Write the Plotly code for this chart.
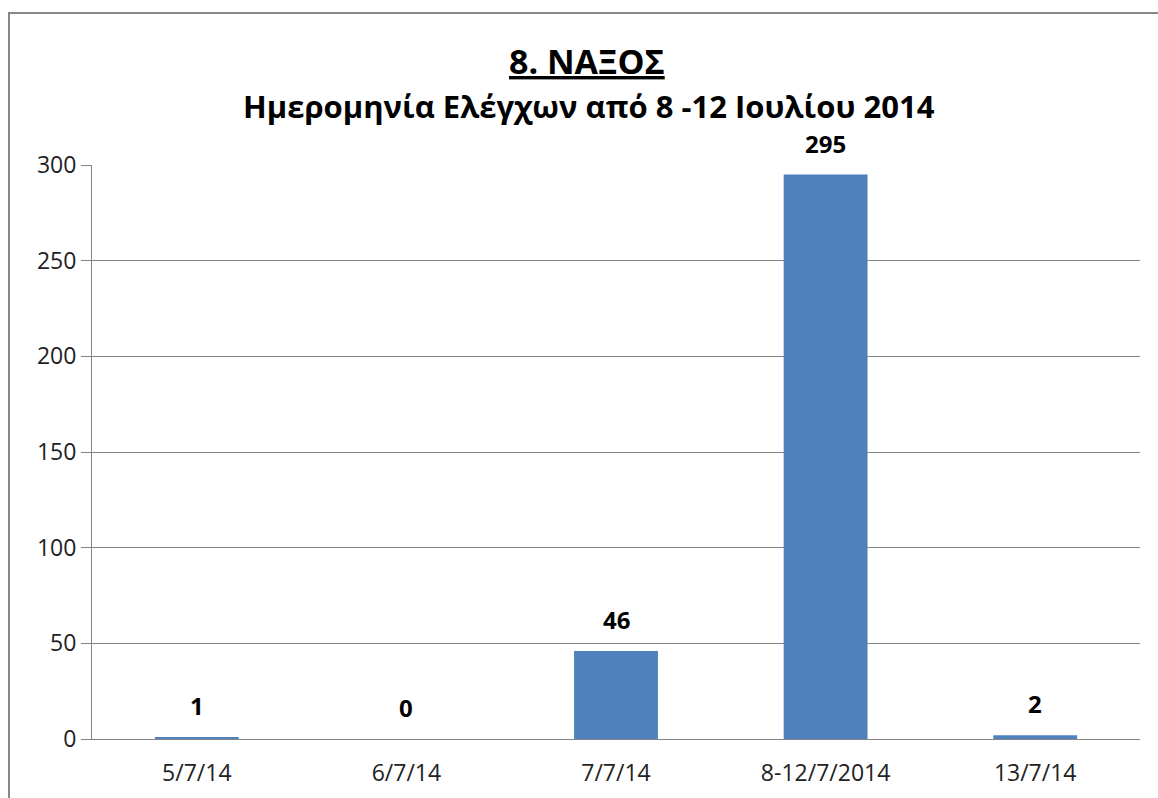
import plotly.graph_objects as go

categories = ["5/7/14", "6/7/14", "7/7/14", "8-12/7/2014", "13/7/14"]
values = [1, 0, 46, 295, 2]
y_ticks = [0, 50, 100, 150, 200, 250, 300]

title_text = "<u>8. ΝΑΞΟΣ</u>"
subtitle_text = "Ημερομηνία Ελέγχων από 8 -12 Ιουλίου 2014"

W, H = 1158, 798
# plot area in screen pixels
X0, X1, Y0, Y1 = 92, 1140, 165, 739
L, T = X0, Y0
R, B = W - X1, H - Y1
pw, ph = X1 - X0, Y1 - Y0

def px_x(x):
    return (x - X0) / pw

def px_y(y):
    return (Y1 - y) / ph

FONT = "Open Sans, Noto Sans, DejaVu Sans, sans-serif"

fig = go.Figure()
fig.add_trace(go.Bar(
    x=categories, y=values,
    marker=dict(color="#4F81BD", line=dict(width=0)),
    width=0.4,
    hoverinfo="x+y",
))

for c, v in zip(categories, values):
    fig.add_annotation(x=c, y=v, xref="x", yref="y", text=f"<b>{v}</b>",
                       showarrow=False, yanchor="bottom", yshift=13,
                       font=dict(family=FONT, size=24, color="#000000"))

fig.add_annotation(x=px_x(587), y=px_y(61), xref="paper", yref="paper", text=f"<b>{title_text}</b>",
                   showarrow=False, yanchor="middle", xanchor="center",
                   font=dict(family=FONT, size=34, color="#000000"))
fig.add_annotation(x=px_x(589), y=px_y(106), xref="paper", yref="paper", text=f"<b>{subtitle_text}</b>",
                   showarrow=False, yanchor="middle", xanchor="center",
                   font=dict(family=FONT, size=31, color="#000000"))

fig.add_shape(type="rect", xref="paper", yref="paper",
              x0=px_x(9), x1=px_x(1185), y0=px_y(820), y1=px_y(13),
              line=dict(color="#878787", width=2), fillcolor="rgba(0,0,0,0)")

fig.update_layout(
    width=W, height=H,
    margin=dict(l=L, r=R, t=T, b=B, autoexpand=False),
    paper_bgcolor="white", plot_bgcolor="white",
    showlegend=False,
    bargap=0.6,
    font=dict(family=FONT, size=23, color="#222222"),
)
fig.update_xaxes(
    type="category", showgrid=False, showline=True, linecolor="#868686", linewidth=1,
    ticks="", tickfont=dict(family=FONT, size=23, color="#222222"), ticklabelstandoff=13,
)
fig.update_yaxes(
    range=[0, 300], tickvals=y_ticks, showgrid=True, gridcolor="#868686", gridwidth=1,
    showline=True, linecolor="#868686", linewidth=1, ticks="outside", ticklen=10,
    tickcolor="#868686", zeroline=False,
    tickfont=dict(family=FONT, size=23, color="#222222"), ticklabelstandoff=0,
)

fig.write_html(
    "out.html",
    config={"displayModeBar": False},
    post_script="document.body.style.margin='0';document.body.style.overflow='hidden';",
)
